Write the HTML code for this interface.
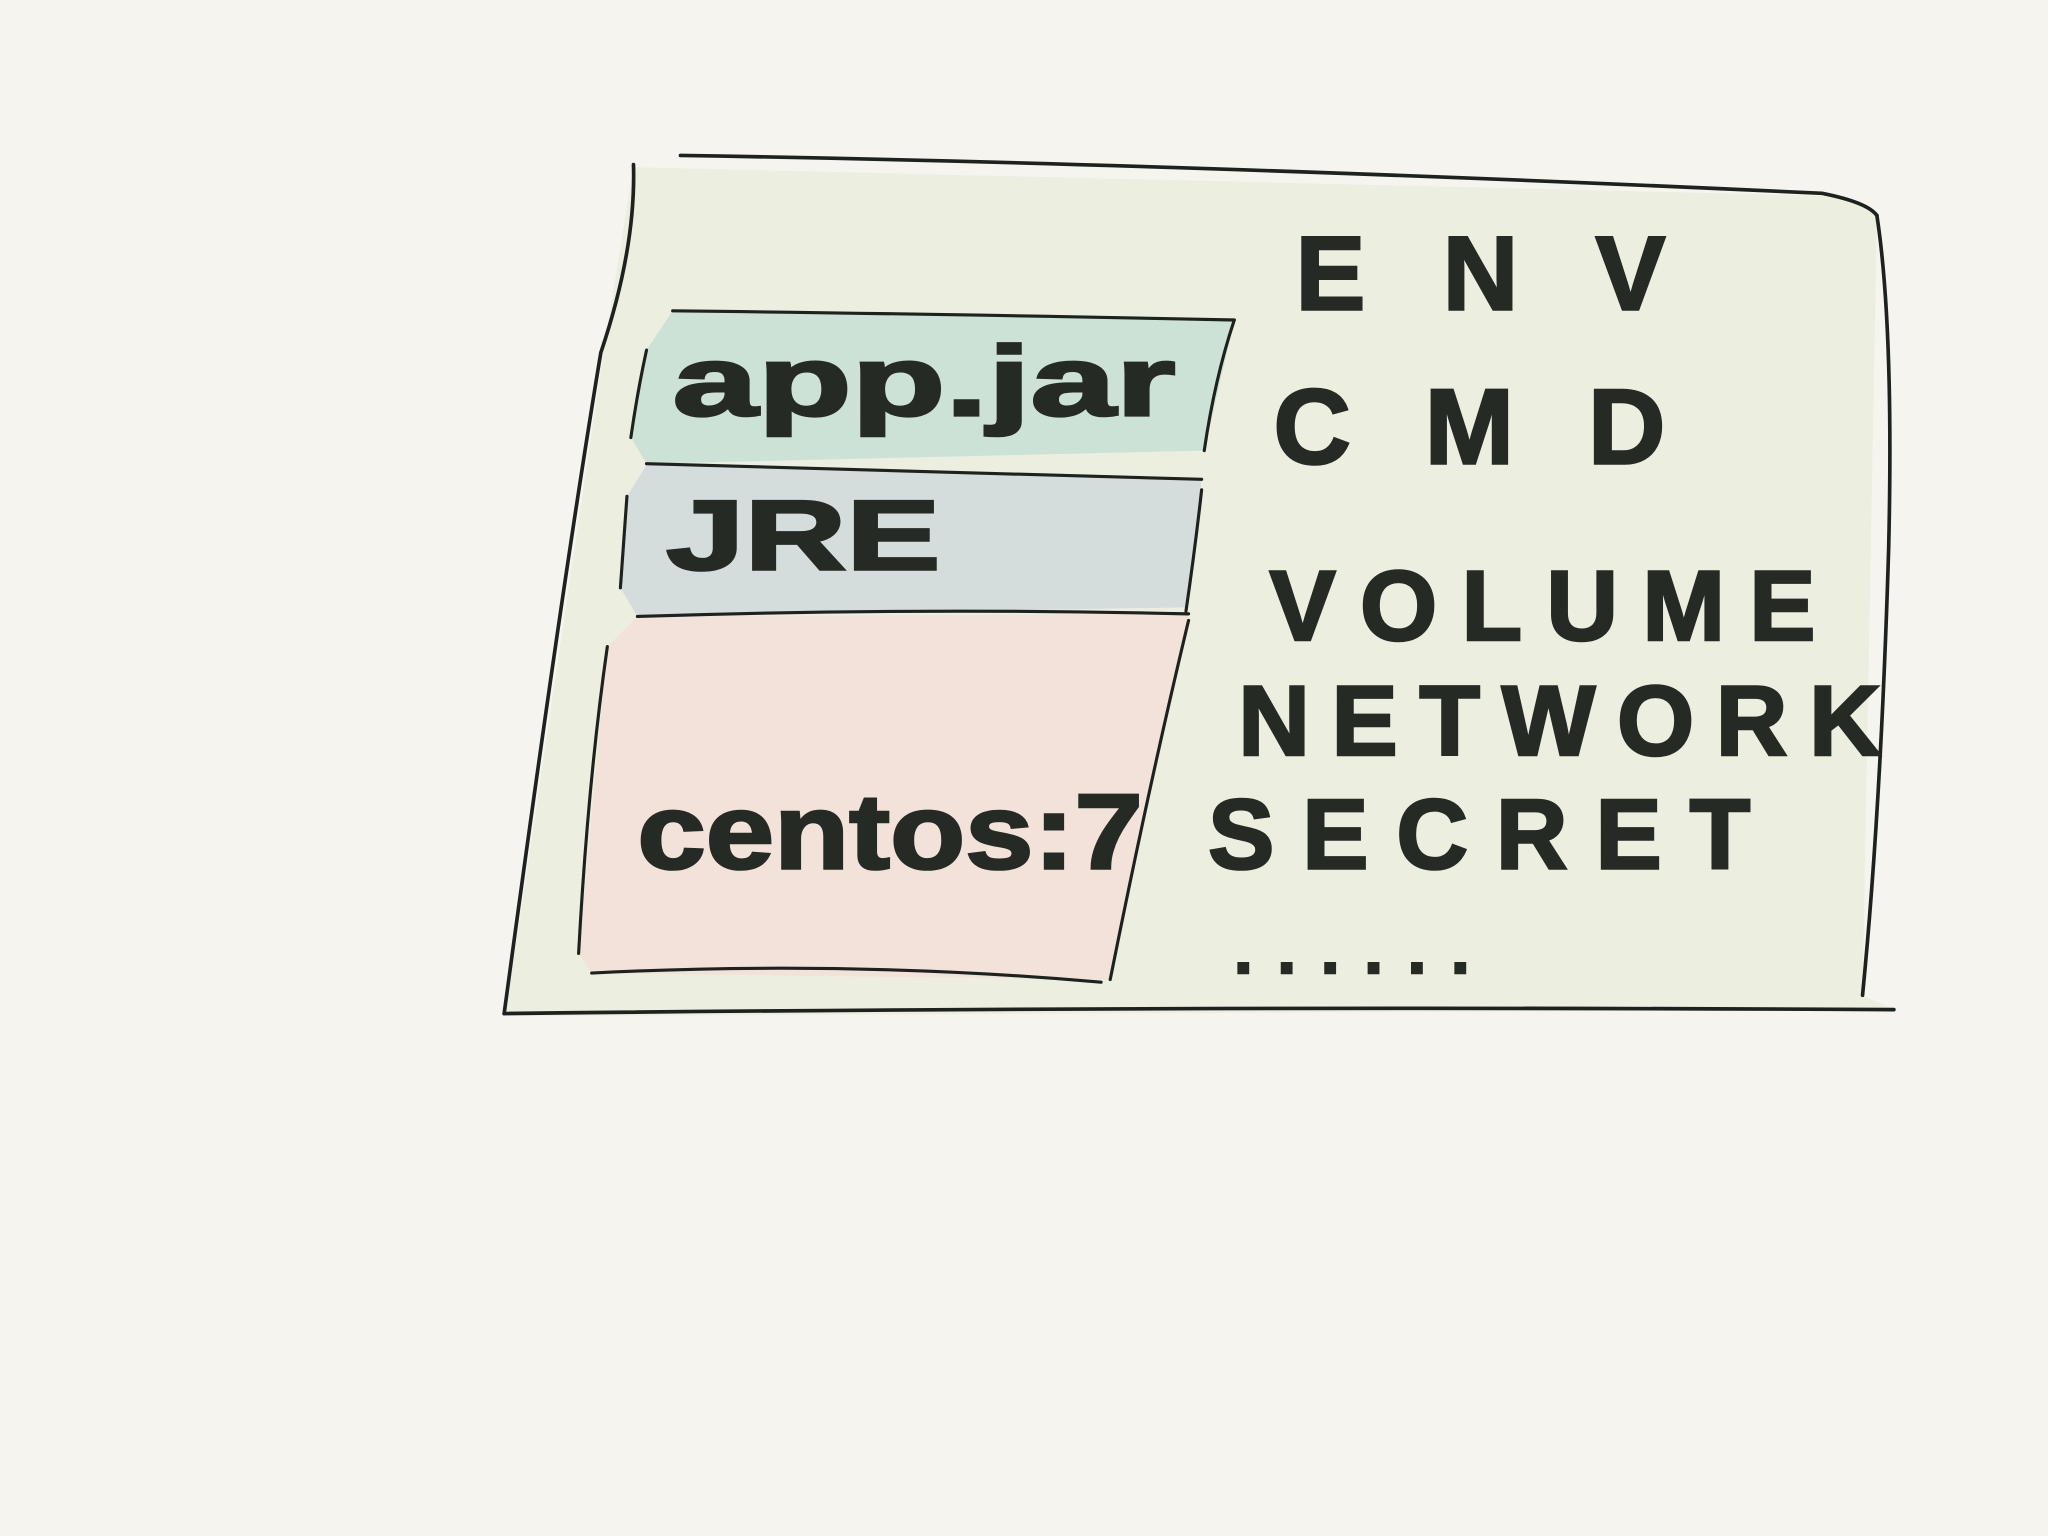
<!DOCTYPE html>
<html><head><meta charset="utf-8"><style>
html,body{margin:0;padding:0;background:#f5f4ef;}
svg{display:block;}
text{font-family:"Liberation Sans",sans-serif;font-weight:bold;fill:#252a25;stroke:#252a25;stroke-width:2;}
</style></head><body>
<svg width="2048" height="1536" viewBox="0 0 1568 1176" xmlns="http://www.w3.org/2000/svg">
<rect width="1568" height="1176" fill="#f5f4ef"/>
<path d="M485,128 L1400,150 Q1432,156 1437,165 L1426,762 L1450,773 L387,778 L462,270 Z" fill="#eceee0"/>
<g fill="none" stroke="#1e221e" stroke-width="2.8" stroke-linecap="round">
<path d="M521,119 Q900,125 1395,148 Q1430,155 1437,165"/>
<path d="M1437,165 Q1450,250 1446,420 Q1440,620 1426,762"/>
<path d="M386,776 Q900,770 1450,773"/>
<path d="M485,126 Q487,190 460,270 Q430,450 386,776"/>
</g>
<path d="M515,238 L945,245 L922,345 L495,355 L483,335 L495,268 Z" fill="#cce2d6"/>
<path d="M495,356 L920,367 L908,465 L488,472 L475,450 L480,380 Z" fill="#d4dcdc"/>
<path d="M488,472 L910,470 L850,750 L453,745 L443,730 L465,495 Z" fill="#f2e2da"/>
<g fill="none" stroke="#1e221e" stroke-width="2.4" stroke-linecap="round">
<path d="M515,238 Q700,240 945,245"/>
<path d="M945,245 Q930,290 922,345"/>
<path d="M495,268 Q488,300 483,335"/>
<path d="M495,355 Q700,360 920,367"/>
<path d="M920,375 Q915,420 908,468"/>
<path d="M480,380 Q477,420 475,450"/>
<path d="M488,472 Q700,465 910,470"/>
<path d="M910,475 Q880,600 850,750"/>
<path d="M465,495 Q450,600 443,730"/>
<path d="M453,745 Q650,735 843,752"/>
</g>
<text x="515" y="318" font-size="76" textLength="385" lengthAdjust="spacingAndGlyphs">app.jar</text>
<text x="510" y="436" font-size="76" textLength="210" lengthAdjust="spacingAndGlyphs">JRE</text>
<text x="488" y="665" font-size="82" textLength="387" lengthAdjust="spacingAndGlyphs">centos:7</text>
<text x="992" y="237" font-size="80" textLength="283" lengthAdjust="spacing">ENV</text>
<text x="975" y="355" font-size="82" textLength="300" lengthAdjust="spacing">CMD</text>
<text x="972" y="490" font-size="76" textLength="418" lengthAdjust="spacing">VOLUME</text>
<text x="948" y="578" font-size="76" textLength="492" lengthAdjust="spacing">NETWORK</text>
<text x="925" y="665" font-size="76" textLength="415" lengthAdjust="spacing">SECRET</text>
<text x="945" y="745" font-size="50" textLength="180" lengthAdjust="spacing">......</text>
</svg>
</body></html>
